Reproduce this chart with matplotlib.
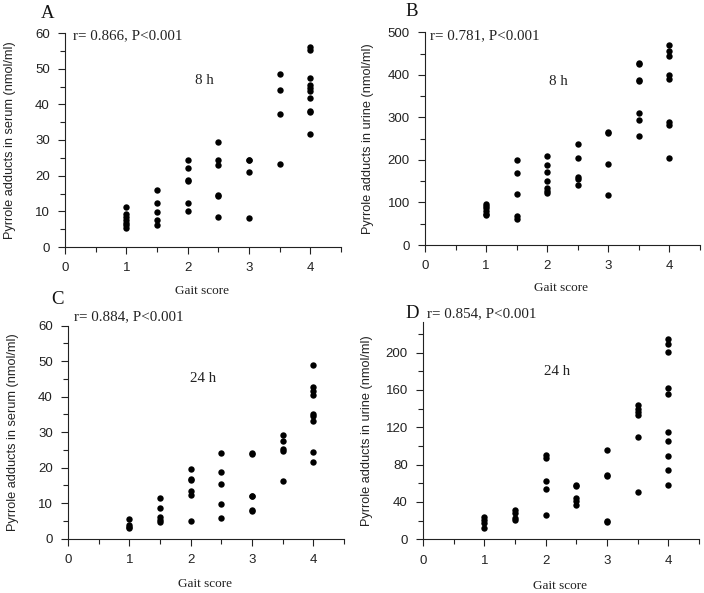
import matplotlib
matplotlib.use("Agg")
import matplotlib.pyplot as plt
from matplotlib.ticker import MultipleLocator

# ---- data ----
gait_levels = [1, 1.5, 2, 2.5, 3, 3.5, 4]

serum_8h = {
    1: [11.2, 9.2, 8.5, 7.6, 6.8, 6.1, 5.4],
    1.5: [16.0, 12.2, 9.8, 7.6, 6.2],
    2: [24.3, 22.2, 18.9, 18.5, 12.3, 10.0],
    2.5: [29.3, 24.3, 23.0, 14.6, 14.4, 8.4],
    3: [24.5, 24.3, 21.0, 8.1],
    3.5: [48.4, 44.1, 37.3, 23.4],
    4: [56.1, 55.1, 47.4, 45.3, 44.5, 43.7, 41.7, 38.2, 37.8, 31.7],
}
urine_8h = {
    1: [97, 92, 86, 80, 74, 70],
    1.5: [200, 170, 120, 67, 62],
    2: [210, 188, 172, 151, 135, 128, 123],
    2.5: [237, 204, 161, 155, 141],
    3: [266, 264, 190, 117],
    3.5: [427, 425, 387, 385, 310, 294, 256],
    4: [470, 455, 445, 400, 390, 288, 282, 204],
}
serum_24h = {
    1: [5.6, 3.8, 3.3, 3.0],
    1.5: [11.5, 8.6, 6.1, 5.3, 4.6],
    2: [19.6, 16.9, 16.4, 13.5, 12.3, 4.9],
    2.5: [24.1, 18.8, 15.5, 9.7, 5.7],
    3: [24.2, 23.9, 12.1, 11.9, 8.0, 7.8],
    3.5: [29.1, 27.6, 25.2, 24.8, 16.2],
    4: [48.8, 42.6, 41.7, 40.5, 35.1, 34.5, 33.1, 24.5, 21.5],
}
urine_24h = {
    1: [24, 21, 17, 12],
    1.5: [31, 28, 23, 21],
    2: [90, 87, 62, 54, 26],
    2.5: [58, 57, 44, 41, 37],
    3: [96, 69, 68, 20, 19],
    3.5: [144, 140, 136, 133, 110, 51],
    4: [215, 209, 201, 162, 156, 115, 105, 89, 74, 58],
}

panel_letters = ["A", "B", "C", "D"]
stats_text = ["r= 0.866, P<0.001", "r= 0.781, P<0.001",
              "r= 0.884, P<0.001", "r= 0.854, P<0.001"]
time_text = ["8 h", "8 h", "24 h", "24 h"]
ylabels = ["Pyrrole adducts in serum (nmol/ml)", "Pyrrole adducts in urine (nmol/ml)",
           "Pyrrole adducts in serum (nmol/ml)", "Pyrrole adducts in urine (nmol/ml)"]
xlabel = "Gait score"
datasets = [serum_8h, urine_8h, serum_24h, urine_24h]
ylims = [60, 500, 60, 233]
ymajor = [10, 100, 10, 40]
yminor = [5, 50, 5, 20]

W, H = 704, 593
fig = plt.figure(figsize=(W / 100, H / 100), dpi=100)

# axes boxes in pixels: left, right, top, bottom
boxes = [(65, 341, 33, 247), (425, 700, 32.3, 245),
         (68, 344, 325.7, 538.7), (423, 699, 321.7, 539.3)]
stat_pos = [(0.029, 0.986), (0.019, 0.983), (0.022, 1.042), (0.015, 1.039)]
time_pos = [(0.504, 0.78), (0.484, 0.771), (0.49, 0.75), (0.486, 0.771)]
letter_pos = [(48, 14), (412, 12), (57, 299), (412, 313)]
ylab_x = [-0.2, -0.208, -0.2, -0.203]
xlab_y = [-0.206, -0.202, -0.214, -0.213]

serif = "Liberation Serif"
sans = "Liberation Sans"

for i in range(4):
    l, r, t, b = boxes[i]
    ax = fig.add_axes([l / W, (H - b) / H, (r - l) / W, (b - t) / H])
    data = datasets[i]
    xs, ys = [], []
    for g in gait_levels:
        for v in data[g]:
            xs.append(g)
            ys.append(v)
    ax.plot(xs, ys, 'o', color='black', markersize=4.6, markeredgewidth=0, clip_on=False)
    ax.set_xlim(0, 4.5)
    ax.set_ylim(0, ylims[i])
    ax.xaxis.set_major_locator(MultipleLocator(1))
    ax.xaxis.set_minor_locator(MultipleLocator(0.5))
    ax.yaxis.set_major_locator(MultipleLocator(ymajor[i]))
    ax.yaxis.set_minor_locator(MultipleLocator(yminor[i]))
    for s in ["top", "right"]:
        ax.spines[s].set_visible(False)
    for s in ["left", "bottom"]:
        ax.spines[s].set_linewidth(0.8)
        ax.spines[s].set_color("#222222")
    ax.tick_params(which="major", length=5, width=0.8, color="#222222", direction="out",
                   labelsize=9.5, pad=6)
    ax.tick_params(which="minor", length=3.3, width=0.8, color="#222222", direction="out")
    for lab in ax.get_xticklabels() + ax.get_yticklabels():
        lab.set_fontfamily(sans)
        lab.set_color("#222222")
    ax.set_ylabel(ylabels[i], fontfamily=sans, fontsize=9.2, color="#222222")
    ax.yaxis.set_label_coords(ylab_x[i], 0.5)
    ax.yaxis.label.set_verticalalignment("center")
    ax.set_xlabel(xlabel, fontfamily=serif, fontsize=9.5, color="#222222")
    ax.xaxis.set_label_coords(0.496, xlab_y[i])
    ax.xaxis.label.set_verticalalignment("center")
    ax.text(stat_pos[i][0], stat_pos[i][1], stats_text[i], transform=ax.transAxes,
            fontfamily=serif, fontsize=10.8, ha="left", va="center", color="#222222")
    ax.text(time_pos[i][0], time_pos[i][1], time_text[i], transform=ax.transAxes,
            fontfamily=serif, fontsize=10.8, ha="center", va="center", color="#222222")
    fig.text(letter_pos[i][0] / W, 1 - letter_pos[i][1] / H, panel_letters[i],
             fontfamily=serif, fontsize=13.5, ha="center", va="center", color="#111111")

fig.savefig("out.png", dpi=100)
